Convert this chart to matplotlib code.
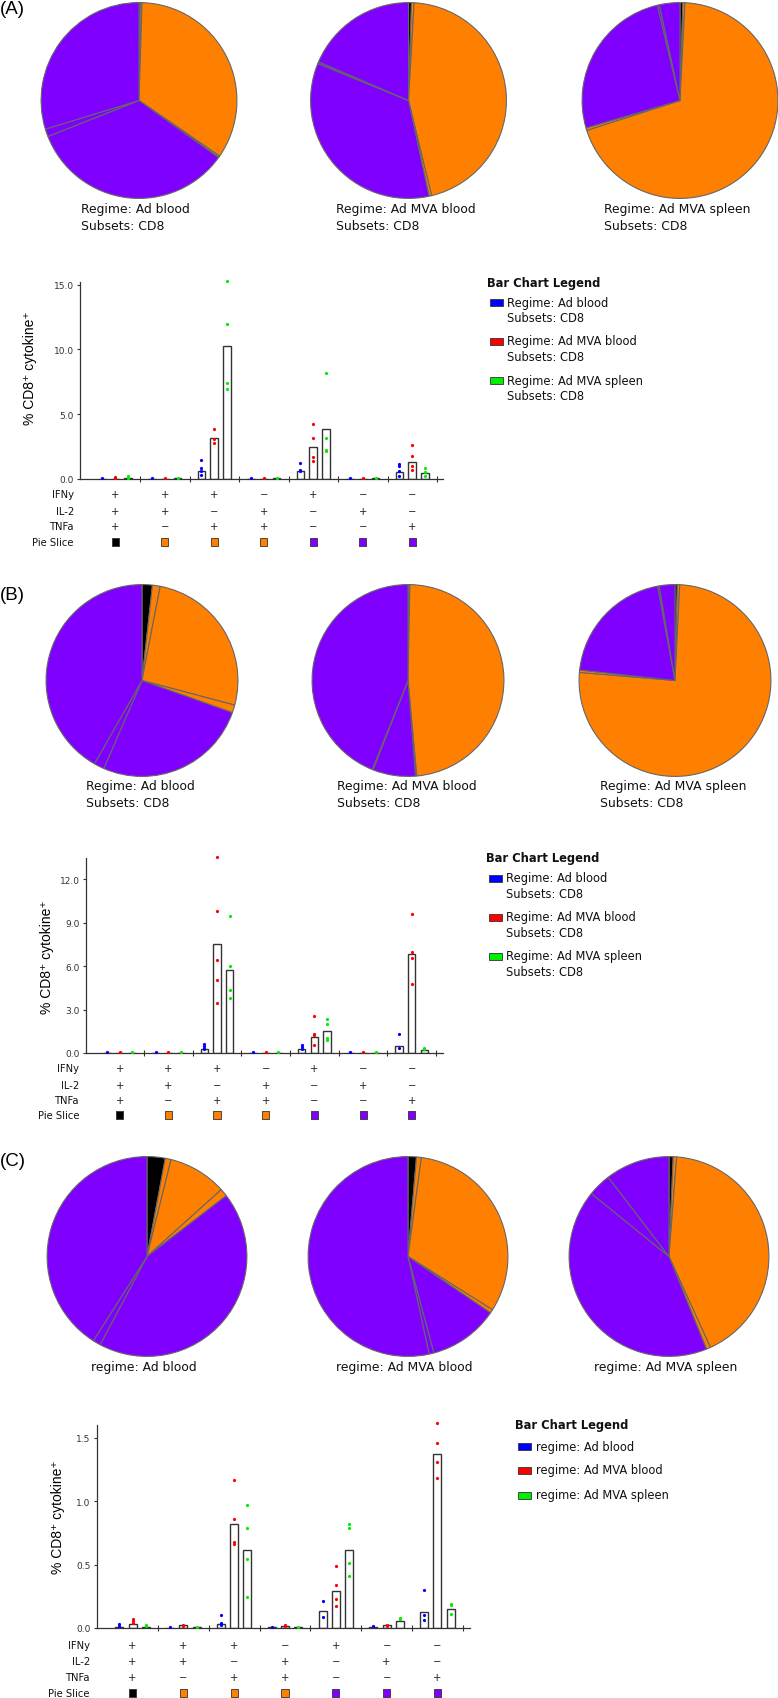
import matplotlib
matplotlib.use('Agg')
import matplotlib.pyplot as plt
from matplotlib.transforms import blended_transform_factory
from matplotlib.patches import Rectangle
import numpy as np

W, H = 778, 1699

# ---------------- data ----------------
categories = ['+++', '++-', '+-+', '-++', '+--', '-+-', '--+']
ifng = ['+', '+', '+', '−', '+', '−', '−']
il2 = ['+', '+', '−', '+', '−', '+', '−']
tnfa = ['+', '−', '+', '+', '−', '−', '+']
row_names = ['IFNy', 'IL-2', 'TNFa', 'Pie Slice']
slice_colors = ['#000000', '#FF8000', '#FF8000', '#FF8000', '#8000FF', '#8000FF', '#8000FF']
series_colors = ['#0000FF', '#FF0000', '#00EE00']

# Panel A
A_blood_bar = [0.004, 0.005, 0.62, 0.005, 0.62, 0.023, 0.54]
A_mva_blood_bar = [0.035, 0.03, 3.2, 0.03, 2.44, 0.02, 1.31]
A_mva_spleen_bar = [0.07, 0.05, 10.25, 0.06, 3.82, 0.05, 0.5]
A_blood_dots = [[0.05], [0.05], [1.5, 0.85, 0.6, 0.3], [0.04], [1.23, 0.69, 0.62], [0.04], [1.18, 0.97, 0.59, 0.23]]
A_mva_blood_dots = [[0.12, 0.06], [0.05], [3.87, 3.05, 2.77], [0.05], [4.28, 3.13, 1.72, 1.38], [0.05], [2.59, 1.74, 0.97, 0.72]]
A_mva_spleen_dots = [[0.2, 0.08], [0.04], [15.3, 11.95, 7.38, 6.92], [0.05], [8.2, 3.2, 2.23, 2.13], [0.04], [0.85, 0.54, 0.23]]
A_yticks = [0, 5, 10, 15]
A_yticklabels = ['0.0', '5.0', '10.0', '15.0']
A_pie_titles = [['Regime: Ad blood', 'Subsets: CD8'], ['Regime: Ad MVA blood', 'Subsets: CD8'],
                ['Regime: Ad MVA spleen', 'Subsets: CD8']]
A_legend = A_pie_titles

# Panel B
B_blood_bar = [0.02, 0.015, 0.30, 0.015, 0.30, 0.02, 0.48]
B_mva_blood_bar = [0.02, 0.03, 7.5, 0.03, 1.12, 0.02, 6.83]
B_mva_spleen_bar = [0.03, 0.03, 5.75, 0.03, 1.55, 0.02, 0.2]
B_blood_dots = [[0.05], [0.05], [0.62, 0.48, 0.34, 0.25], [0.04], [0.53, 0.41, 0.3], [0.04], [1.28, 0.34]]
B_mva_blood_dots = [[0.05], [0.05], [13.49, 9.77, 6.44, 5.02, 3.44], [0.05], [2.57, 1.33, 1.22, 0.53], [0.05], [9.59, 6.95, 6.58, 4.77]]
B_mva_spleen_dots = [[0.05], [0.05], [9.47, 6.03, 4.36, 3.76], [0.05], [2.36, 2.02, 1.06, 0.92], [0.05], [0.37, 0.25]]
B_yticks = [0, 3, 6, 9, 12]
B_yticklabels = ['0.0', '3.0', '6.0', '9.0', '12.0']
B_pie_titles = A_pie_titles
B_legend = A_pie_titles

# Panel C
C_blood_bar = [0.0093, 0.003, 0.03, 0.004, 0.137, 0.004, 0.13]
C_mva_blood_bar = [0.035, 0.02, 0.817, 0.015, 0.29, 0.02, 1.371]
C_mva_spleen_bar = [0.01, 0.008, 0.617, 0.01, 0.617, 0.055, 0.153]
C_blood_dots = [[0.034, 0.018], [0.01], [0.10, 0.037, 0.026], [0.01], [0.216, 0.084], [0.015], [0.298, 0.105, 0.063]]
C_mva_blood_dots = [[0.07, 0.055, 0.042], [0.026, 0.013], [1.165, 0.86, 0.68, 0.66], [0.02, 0.012],
                    [0.488, 0.337, 0.232, 0.177], [0.026, 0.013], [1.613, 1.46, 1.308, 1.181]]
C_mva_spleen_dots = [[0.026, 0.013], [0.01], [0.973, 0.786, 0.546, 0.248], [0.01], [0.82, 0.786, 0.514, 0.409],
                     [0.082, 0.069], [0.19, 0.182, 0.113]]
C_yticks = [0, 0.5, 1.0, 1.5]
C_yticklabels = ['0.0', '0.5', '1.0', '1.5']
C_pie_titles = [['regime: Ad blood'], ['regime: Ad MVA blood'], ['regime: Ad MVA spleen']]
C_legend = C_pie_titles

plt.rcParams['font.family'] = ['DejaVu Sans']

fig = plt.figure(figsize=(W / 100, H / 100), dpi=100)


def fx(px):
    return px / W


def fy(py):
    return 1 - py / H


panels = [
    dict(label='(A)', label_y=10,
         bars=[A_blood_bar, A_mva_blood_bar, A_mva_spleen_bar],
         dots=[A_blood_dots, A_mva_blood_dots, A_mva_spleen_dots],
         pie_top=3, pie_d=197, pie_cx=[139, 408.5, 680],
         pie_text_left=[81, 336, 604], pie_text_y=[210, 226], pie_titles=A_pie_titles,
         box=(80, 283, 443, 480), g0=115.25, gw=49.5, ymax=15.2,
         yticks=A_yticks, yticklabels=A_yticklabels, ylabel_xy=(30, 368),
         row_x=74, row_y=[495, 512, 527, 543],
         leg_title=(487, 283), leg_patch_x=490, leg_text_x=506, leg_y=[303, 342, 381],
         leg_labels=A_legend),
    dict(label='(B)', label_y=596,
         bars=[B_blood_bar, B_mva_blood_bar, B_mva_spleen_bar],
         dots=[B_blood_dots, B_mva_blood_dots, B_mva_spleen_dots],
         pie_top=585, pie_d=193, pie_cx=[142, 408, 675],
         pie_text_left=[86, 337, 600], pie_text_y=[787, 804], pie_titles=B_pie_titles,
         box=(86, 859, 443, 1054), g0=119.7, gw=48.67, ymax=13.45,
         yticks=B_yticks, yticklabels=B_yticklabels, ylabel_xy=(47, 957),
         row_x=79, row_y=[1069, 1086, 1101, 1116],
         leg_title=(486, 859), leg_patch_x=489, leg_text_x=505, leg_y=[879, 918, 957],
         leg_labels=B_legend),
    dict(label='(C)', label_y=1162,
         bars=[C_blood_bar, C_mva_blood_bar, C_mva_spleen_bar],
         dots=[C_blood_dots, C_mva_blood_dots, C_mva_spleen_dots],
         pie_top=1157, pie_d=201, pie_cx=[147, 408, 669],
         pie_text_left=[91, 336, 594], pie_text_y=[1368], pie_titles=C_pie_titles,
         box=(97, 1426, 470, 1629), g0=132.6, gw=50.8, ymax=1.6,
         yticks=C_yticks, yticklabels=C_yticklabels, ylabel_xy=(58, 1517),
         row_x=90, row_y=[1646, 1662, 1678, 1694],
         leg_title=(515, 1426), leg_patch_x=518, leg_text_x=535, leg_y=[1447, 1471, 1496],
         leg_labels=C_legend),
]

EDGE = '#333333'

for p in panels:
    # panel label
    fig.text(fx(0), fy(p['label_y']), p['label'], ha='left', va='center', fontsize=13.5,
             family=['Liberation Sans', 'DejaVu Sans'])

    # pies (built from the bar values of each series)
    for k in range(3):
        cx = p['pie_cx'][k]
        d = p['pie_d']
        pax = fig.add_axes([fx(cx - d / 2), fy(p['pie_top'] + d), d / W, d / H])
        pax.pie(p['bars'][k], colors=slice_colors, startangle=90, counterclock=False,
                wedgeprops=dict(edgecolor='#666666', linewidth=0.8))
        pax.set_aspect('auto')
        pax.set_xlim(-1.006, 1.006)
        pax.set_ylim(-1.006, 1.006)
        pax.axis('off')
        for line, ty in zip(p['pie_titles'][k], p['pie_text_y']):
            fig.text(fx(p['pie_text_left'][k]), fy(ty), line, ha='left', va='center',
                     fontsize=8.9, color='#111111')

    # bar chart
    l, t, r, b = p['box']
    ax = fig.add_axes([fx(l), fy(b), (r - l) / W, (b - t) / H])
    ax.patch.set_alpha(0)
    ax.set_xlim((l - p['g0']) / p['gw'], (r - p['g0']) / p['gw'])
    ax.set_ylim(0, p['ymax'])
    x = np.arange(len(categories))
    offs = [-0.26, 0.0, 0.26]
    for k in range(3):
        ax.bar(x + offs[k], p['bars'][k], width=0.155, facecolor='white', edgecolor=EDGE,
               linewidth=1.0, zorder=2)
        for gi, vals in enumerate(p['dots'][k]):
            ax.plot([x[gi] + offs[k]] * len(vals), vals, 'o', ms=2.3, color=series_colors[k],
                    mec='none', zorder=3, clip_on=False)
    for s in ['top', 'right']:
        ax.spines[s].set_visible(False)
    for s in ['left', 'bottom']:
        ax.spines[s].set_color(EDGE)
        ax.spines[s].set_linewidth(0.9)
    ax.set_yticks(p['yticks'])
    ax.set_yticklabels(p['yticklabels'])
    ax.tick_params(axis='y', direction='out', length=2.5, width=0.8, color=EDGE,
                   labelsize=6.5, labelcolor='#333333', pad=2)
    ax.set_xticks(x + 0.5)
    ax.set_xticklabels([])
    ax.tick_params(axis='x', direction='inout', length=5, width=0.8, color=EDGE)

    fig.text(fx(p['ylabel_xy'][0]), fy(p['ylabel_xy'][1]), '% CD8⁺ cytokine⁺', rotation=90,
             ha='center', va='center', fontsize=10, family=['Liberation Sans', 'DejaVu Sans'])

    # marker rows under bars
    tr = blended_transform_factory(ax.transData, fig.transFigure)
    for name, ry in zip(row_names, p['row_y']):
        fig.text(fx(p['row_x']), fy(ry), name, ha='right', va='center', fontsize=7.2, color='#111111')
    for signs, ry in zip([ifng, il2, tnfa], p['row_y'][:3]):
        for gi, s in enumerate(signs):
            ax.text(x[gi], fy(ry), s, transform=tr, ha='center', va='center', fontsize=7.2,
                    color='#222222')
    ax.scatter(x, [fy(p['row_y'][3])] * len(x), s=26, marker='s', c=slice_colors,
               edgecolors='#333333', linewidths=0.6, transform=tr, clip_on=False, zorder=5)

    # legend
    fig.text(fx(p['leg_title'][0]), fy(p['leg_title'][1]), 'Bar Chart Legend', ha='left', va='center',
             fontsize=8.3, fontweight='bold', color='#111111')
    for k in range(3):
        ly = p['leg_y'][k]
        fig.add_artist(Rectangle((fx(p['leg_patch_x']), fy(ly + 3.5)), 13 / W, 7 / H,
                                 transform=fig.transFigure, facecolor=series_colors[k],
                                 edgecolor='#333333', linewidth=0.6))
        for li, line in enumerate(p['leg_labels'][k]):
            fig.text(fx(p['leg_text_x'] + 1), fy(ly + 15.5 * li), line, ha='left', va='center',
                     fontsize=8.3, color='#111111')

fig.savefig('out.png', dpi=100)
